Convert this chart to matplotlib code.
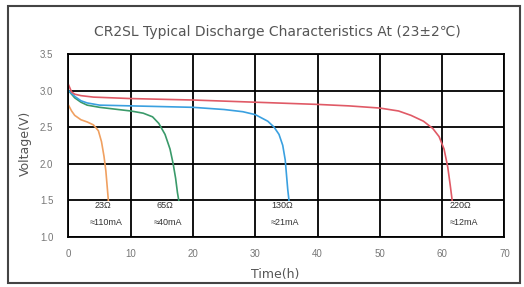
import matplotlib
matplotlib.use("Agg")
import matplotlib.pyplot as plt
from matplotlib.patches import Rectangle

plt.rcParams['font.family'] = ['Liberation Sans', 'DejaVu Sans']

# discharge curves (time in h, voltage in V)
t_23 = [0, 0.5, 1, 2, 3, 4, 4.8, 5.3, 5.7, 6.0, 6.2, 6.3, 6.4]
v_23 = [2.80, 2.72, 2.66, 2.60, 2.57, 2.53, 2.45, 2.30, 2.10, 1.90, 1.70, 1.60, 1.50]

t_65 = [0, 0.5, 1, 2, 3, 5, 8, 10, 12, 13.5, 14.5, 15.5, 16.3, 16.8, 17.2, 17.5, 17.7]
v_65 = [3.00, 2.95, 2.90, 2.84, 2.80, 2.77, 2.74, 2.72, 2.69, 2.64, 2.55, 2.40, 2.20, 2.00, 1.80, 1.60, 1.50]

t_130 = [0, 1, 2, 3, 5, 10, 15, 20, 25, 28, 30, 32, 33, 33.8, 34.4, 34.8, 35.0, 35.2, 35.4]
v_130 = [3.00, 2.92, 2.86, 2.83, 2.80, 2.79, 2.78, 2.77, 2.74, 2.71, 2.67, 2.58, 2.50, 2.40, 2.25, 2.05, 1.85, 1.65, 1.50]

t_220 = [0, 0.5, 1, 2, 4, 10, 20, 30, 40, 45, 50, 53, 55, 57, 58.5, 59.5, 60.3, 60.9, 61.3, 61.6]
v_220 = [3.08, 2.98, 2.95, 2.93, 2.91, 2.89, 2.87, 2.84, 2.81, 2.79, 2.76, 2.72, 2.66, 2.58, 2.48, 2.37, 2.20, 1.95, 1.70, 1.50]

loads = ["23Ω", "65Ω", "130Ω", "220Ω"]
currents = ["≈110mA", "≈40mA", "≈21mA", "≈12mA"]
label_x = [5.6, 15.5, 34.3, 63.0]

xticks = [0, 10, 20, 30, 40, 50, 60, 70]
yticks = [1.0, 1.5, 2.0, 2.5, 3.0, 3.5]

fig = plt.figure(figsize=(5.24, 2.87), dpi=100)
ax = fig.add_axes([0.1307, 0.1753, 0.832, 0.6366])

ax.plot(t_23, v_23, color='#f0a060', lw=1.2)
ax.plot(t_65, v_65, color='#3a9a6a', lw=1.2)
ax.plot(t_130, v_130, color='#3aa0e0', lw=1.2)
ax.plot(t_220, v_220, color='#e05a66', lw=1.2)

for x, r, c in zip(label_x, loads, currents):
    ax.text(x, 1.42, r, ha='center', va='center', fontsize=6.5, color='#333333')
    ax.text(x + 0.5, 1.20, c, ha='center', va='center', fontsize=6.5, color='#333333')

ax.set_xlim(0, 70)
ax.set_ylim(1.0, 3.5)
ax.set_xticks(xticks)
ax.set_yticks(yticks)
ax.set_yticklabels([f'{v:.1f}' for v in yticks])
ax.grid(True, color='black', lw=1.3)
ax.tick_params(length=0, labelsize=7, colors='#777777', pad=9)
ax.tick_params(axis='y', pad=11)
for s in ax.spines.values():
    s.set_linewidth(1.3)

ax.set_xlabel('Time(h)', fontsize=9, color='#555555', family='DejaVu Sans')
ax.xaxis.set_label_coords(0.474, -0.17)
ax.set_ylabel('Voltage(V)', fontsize=9, color='#555555', family='DejaVu Sans')
ax.yaxis.set_label_coords(-0.085, 0.51)

fig.text(0.5296, 0.888, 'CR2SL Typical Discharge Characteristics At (23±2℃)',
         ha='center', va='center', fontsize=10, color='#555555',
         family=['DejaVu Sans'])

fig.patches.append(Rectangle((8 / 524, 4 / 287), 512 / 524, 277 / 287,
                             transform=fig.transFigure, fill=False,
                             edgecolor='#444444', lw=1.5))

fig.savefig('out.png', dpi=100)
